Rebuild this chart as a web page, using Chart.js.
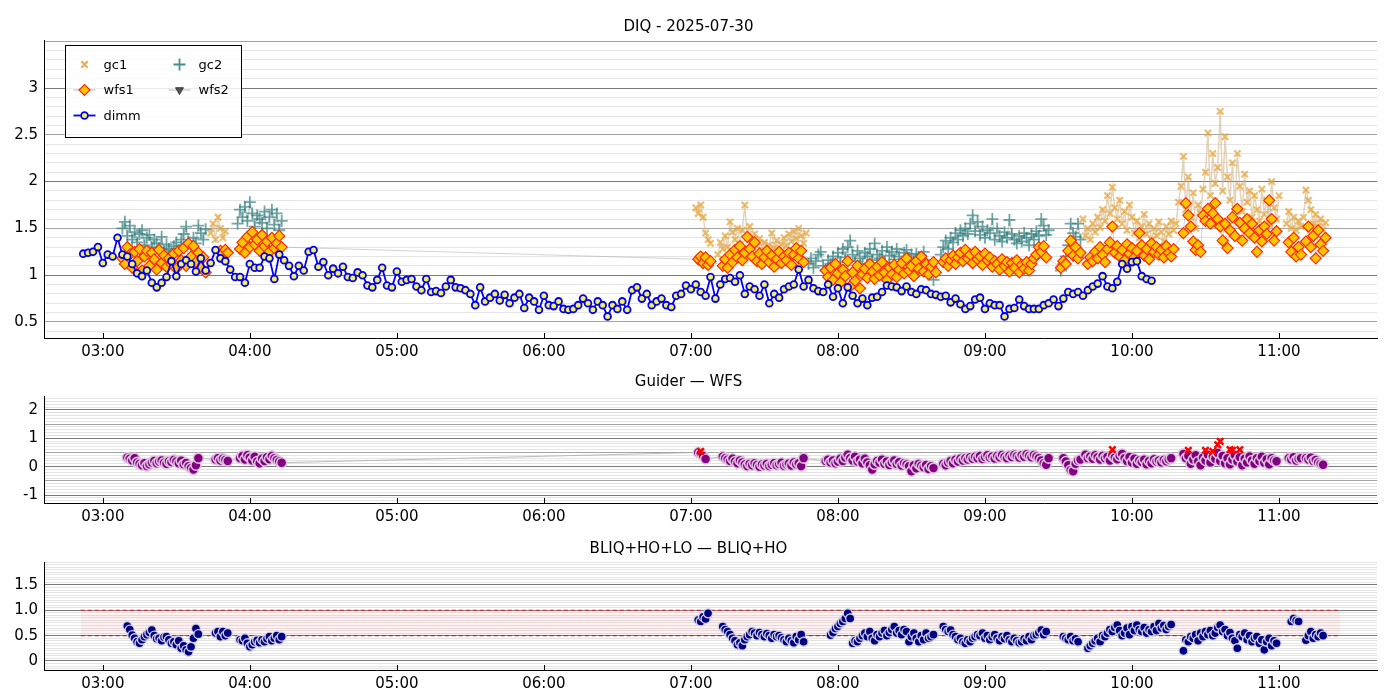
<!DOCTYPE html>
<html>
<head>
<meta charset="utf-8">
<title>DIQ - 2025-07-30</title>
<script src="https://cdn.jsdelivr.net/npm/chart.js@4.4.1/dist/chart.umd.min.js"></script>
<style>
  html, body { margin: 0; padding: 0; background: #fff; }
  #page { position: relative; width: 1400px; height: 700px; }
  .panel { position: absolute; left: 0; width: 1400px; }
</style>
</head>
<body>
<div id="page">
  <div class="panel" style="top:0;height:365px"><canvas id="diqChart"></canvas></div>
  <div class="panel" style="top:365px;height:165px"><canvas id="guiderChart"></canvas></div>
  <div class="panel" style="top:530px;height:170px"><canvas id="bliqChart"></canvas></div>
</div>
<script>
// --- data (times are HH:MM, one value per step) ---
const hourTicks = ["03:00", "04:00", "05:00", "06:00", "07:00", "08:00", "09:00", "10:00", "11:00"];

const DIMM_START = "02:52";
const DIMM_STEP = 2; // minutes
const dimmValues = [
  1.23, 1.24, 1.25, 1.30, 1.13, 1.22, 1.20, 1.40, 1.22, 1.20,
  1.12, 1.02, 0.99, 1.05, 0.92, 0.87, 0.92, 0.98, 1.15, 0.99,
  1.12, 1.16, 1.12, 1.04, 1.18, 1.05, 1.13, 1.27, 1.18, 1.15,
  1.06, 0.98, 0.98, 0.92, 1.12, 1.08, 1.08, 1.20, 1.18, 0.96,
  1.22, 1.16, 1.10, 0.99, 1.10, 1.05, 1.25, 1.27, 1.09, 1.14,
  1.00, 1.07, 1.02, 1.09, 0.98, 0.97, 1.03, 1.00, 0.89, 0.87,
  0.95, 1.08, 0.89, 0.87, 1.04, 0.93, 0.95, 0.96, 0.88, 0.84,
  0.96, 0.82, 0.83, 0.81, 0.88, 0.95, 0.87, 0.86, 0.84, 0.80,
  0.68, 0.87, 0.72, 0.76, 0.80, 0.73, 0.79, 0.70, 0.76, 0.80,
  0.65, 0.76, 0.72, 0.63, 0.78, 0.68, 0.67, 0.72, 0.64, 0.63,
  0.64, 0.68, 0.75, 0.70, 0.63, 0.72, 0.68, 0.56, 0.68, 0.64,
  0.72, 0.63, 0.84, 0.87, 0.75, 0.80, 0.68, 0.72, 0.75, 0.68,
  0.66, 0.78, 0.80, 0.89, 0.85, 0.90, 0.82, 0.78, 0.98, 0.75,
  0.90, 0.96, 0.97, 0.93, 1.00, 0.80, 0.88, 0.85, 0.78, 0.90,
  0.70, 0.80, 0.76, 0.85, 0.88, 0.90, 1.06, 0.88, 0.95, 0.86,
  0.83, 0.82, 0.90, 0.77, 0.86, 0.70, 0.87, 0.78, 0.70, 0.75,
  0.68, 0.76, 0.77, 0.82, 0.89, 0.88, 0.87, 0.83, 0.88, 0.82,
  0.80, 0.85, 0.84, 0.80, 0.79, 0.77, 0.78, 0.71, 0.75, 0.69,
  0.64, 0.67, 0.74, 0.76, 0.64, 0.70, 0.68, 0.68, 0.56, 0.64,
  0.65, 0.74, 0.67, 0.64, 0.64, 0.64, 0.68, 0.70, 0.74, 0.67,
  0.75, 0.82, 0.80, 0.82, 0.78, 0.84, 0.88, 0.91, 0.99, 0.88,
  0.86, 0.93, 1.12, 1.07, 1.14, 1.15, 0.99, 0.96, 0.94
];

const SAMPLE_STEP = 1; // minutes, for guider / wfs blocks

const wfs1Blocks = [
  ["03:08", [1.18, 1.12, 1.30, 1.22, 1.08, 1.25, 1.15, 1.28, 1.05, 1.20,
             1.26, 1.10, 1.24, 1.17, 1.06, 1.27, 1.13, 1.21, 1.09, 1.18,
             1.12, 1.23, 1.07, 1.26, 1.16, 1.29, 1.10, 1.34, 1.20, 1.31,
             1.14, 1.24, 1.08, 1.19, 1.03]],
  ["03:48", [1.26, 1.23, 1.27, 1.24]],
  ["03:56", [1.28, 1.35, 1.24, 1.41, 1.30, 1.46, 1.33, 1.38, 1.26, 1.43,
             1.31, 1.36, 1.25, 1.40, 1.29, 1.34, 1.42, 1.30]],
  ["07:03", [1.17, 1.20, 1.13, 1.19, 1.11, 1.15]],
  ["07:13", [1.10, 1.17, 1.08, 1.22, 1.14, 1.27, 1.19, 1.31, 1.16, 1.24,
             1.41, 1.28, 1.20, 1.35, 1.15, 1.23, 1.12, 1.19, 1.26, 1.14,
             1.21, 1.09, 1.17, 1.25, 1.13, 1.20, 1.16, 1.24, 1.11, 1.22,
             1.29, 1.18, 1.26, 1.14]],
  ["07:55", [1.05, 0.98, 1.08, 0.95, 1.12, 1.02, 0.92, 1.06, 0.99, 1.15,
             0.88, 1.03, 0.94, 1.10, 0.86, 1.01, 1.07, 0.97, 1.12, 1.04,
             0.96, 1.09, 1.00, 1.14, 1.03, 0.95, 1.08, 1.01, 1.11, 0.98,
             1.06, 1.13, 1.02, 1.18, 1.05, 1.10, 0.99, 1.15, 1.07, 1.20,
             1.04, 1.12, 1.01, 1.09, 1.14, 1.03]],
  ["08:43", [1.14, 1.18, 1.10, 1.16, 1.21, 1.12, 1.19, 1.24, 1.15, 1.27,
             1.18, 1.22, 1.13, 1.25, 1.17, 1.20, 1.11, 1.23, 1.16, 1.19,
             1.09, 1.15, 1.12, 1.06, 1.17, 1.10, 1.14, 1.04, 1.13, 1.08,
             1.16, 1.03, 1.11, 1.07, 1.14, 1.05, 1.12, 1.18, 1.22, 1.30,
             1.25, 1.31, 1.19]],
  ["09:31", [1.08, 1.15, 1.12, 1.26, 1.37, 1.21, 1.30, 1.18, 1.24]],
  ["09:42", [1.12, 1.19, 1.15, 1.25, 1.18, 1.30, 1.22, 1.14, 1.28, 1.35,
             1.52, 1.24, 1.31, 1.20, 1.27, 1.16, 1.33, 1.23, 1.29, 1.19,
             1.26, 1.45, 1.32, 1.21, 1.28, 1.17, 1.34, 1.25, 1.30, 1.22,
             1.27, 1.19, 1.31, 1.24, 1.20, 1.28]],
  ["10:21", [1.45, 1.77, 1.64, 1.52, 1.36, 1.27, 1.32, 1.25]],
  ["10:29", [1.64, 1.58, 1.71, 1.55, 1.66, 1.77, 1.60, 1.52, 1.37, 1.55,
             1.29, 1.48, 1.62, 1.42, 1.71, 1.56, 1.37, 1.50, 1.60, 1.45,
             1.55, 1.40, 1.25, 1.48, 1.36, 1.52, 1.44, 1.80, 1.60, 1.37,
             1.47]],
  ["11:04", [1.35, 1.25, 1.40, 1.20, 1.30, 1.22]],
  ["11:11", [1.36, 1.52, 1.30, 1.42, 1.18, 1.48, 1.33, 1.26, 1.40]]
];

const gc1Blocks = [
  ["03:44", [1.45, 1.55, 1.38, 1.62, 1.50, 1.40, 1.47]],
  ["07:02", [1.72, 1.66, 1.75, 1.62, 1.45, 1.38, 1.34]],
  ["07:11", [1.22, 1.35, 1.28, 1.42, 1.30, 1.57, 1.46, 1.38, 1.50, 1.33,
             1.48, 1.75, 1.40, 1.52, 1.36, 1.44, 1.31, 1.39, 1.27, 1.35,
             1.24, 1.32, 1.45, 1.29, 1.37, 1.26, 1.33, 1.40, 1.31, 1.44,
             1.36, 1.47, 1.39, 1.50, 1.42, 1.34, 1.45]],
  ["09:40", [1.60, 1.42, 1.50, 1.38, 1.55, 1.46, 1.62, 1.51, 1.70, 1.58,
             1.85, 1.66, 1.94, 1.72, 1.60, 1.80, 1.55, 1.68, 1.48, 1.75,
             1.62, 1.45, 1.58, 1.40, 1.52, 1.65, 1.44, 1.55, 1.38, 1.50,
             1.42, 1.57, 1.46, 1.36, 1.52, 1.44, 1.58, 1.48]],
  ["10:18", [1.55, 1.78, 1.95, 2.27, 1.70, 2.05, 1.62, 1.88, 1.50, 1.75,
             1.66, 1.92, 2.10, 2.52, 1.85, 2.30, 1.98, 2.15, 2.75, 1.90,
             2.48, 2.05, 1.80, 2.20, 1.72, 2.30, 1.95, 1.68, 2.08, 1.78,
             1.90, 1.62, 1.85, 1.70, 1.58, 1.92, 1.65, 1.80, 1.55, 2.00,
             1.72, 1.60, 1.85]],
  ["11:03", [1.55, 1.68, 1.50, 1.62, 1.48, 1.58, 1.52]],
  ["11:10", [1.62, 1.91, 1.80, 1.70, 1.55, 1.65, 1.52, 1.60, 1.48, 1.56]]
];

const gc2Blocks = [
  ["03:08", [1.50, 1.57, 1.42, 1.53, 1.38, 1.46, 1.35, 1.44, 1.48, 1.32,
             1.40, 1.43, 1.30, 1.38, 1.34, 1.29, 1.41, 1.26, 1.33, 1.28,
             1.24, 1.31, 1.35, 1.27, 1.38, 1.44, 1.52, 1.36, 1.30, 1.40,
             1.34, 1.53, 1.45, 1.38, 1.49]],
  ["03:55", [1.55, 1.70, 1.62, 1.73, 1.58, 1.78, 1.66, 1.52, 1.64, 1.60,
             1.56, 1.68, 1.50, 1.62, 1.70, 1.54, 1.66, 1.48, 1.58]],
  ["07:48", [1.12, 1.18, 1.08, 1.15, 1.22, 1.25, 1.10, 1.05, 1.16, 1.12,
             1.20, 1.08, 1.24, 1.14, 1.28, 1.19, 1.30, 1.37, 1.22, 1.15,
             1.26, 1.18, 1.12, 1.24, 1.20, 1.28, 1.16, 1.34, 1.22, 1.18,
             1.26, 1.14, 1.30, 1.21, 1.25, 1.17, 1.28, 1.20, 1.12, 1.24,
             1.27, 1.18, 1.22, 1.15, 1.23, 1.19, 1.12, 1.25, 1.16, 1.08,
             1.02, 0.95]],
  ["08:42", [1.22, 1.30, 1.37, 1.28, 1.40, 1.35, 1.45, 1.38, 1.48, 1.42,
             1.50, 1.44, 1.55, 1.64, 1.47, 1.57, 1.43, 1.52, 1.40, 1.48,
             1.45, 1.60, 1.38, 1.50, 1.42, 1.36, 1.46, 1.40, 1.59, 1.44,
             1.38, 1.34, 1.42, 1.36, 1.45, 1.40, 1.32, 1.44, 1.38, 1.47,
             1.42, 1.60, 1.53, 1.43, 1.48]],
  ["09:31", [1.05, 1.12, 1.20, 1.32, 1.55, 1.45, 1.41, 1.55, 1.38]]
];

// Guider - WFS difference
const guiderBlocks = [
  ["03:10", [0.32, 0.28, 0.22, 0.30, 0.15, 0.10, 0.05, 0.12, 0.02, 0.08,
             0.15, 0.20, 0.12, 0.18, 0.22, 0.14, 0.10, 0.19, 0.16, 0.24,
             0.18, 0.12, 0.21, 0.08, 0.13, 0.02, -0.05, -0.10, 0.05, 0.30]],
  ["03:46", [0.25, 0.30, 0.22, 0.28, 0.24, 0.20]],
  ["03:56", [0.30, 0.38, 0.25, 0.40, 0.32, 0.22, 0.35, 0.18, 0.12, 0.28,
             0.20, 0.33, 0.26, 0.38, 0.30, 0.24, 0.18, 0.14]],
  ["07:03", [0.50, 0.46, 0.38, 0.27]],
  ["07:13", [0.36, 0.30, 0.25, 0.20, 0.28, 0.18, 0.12, 0.22, 0.15, 0.08,
             0.02, 0.10, 0.05, 0.12, 0.06, 0.00, 0.08, 0.04, 0.10, 0.02,
             0.07, 0.12, 0.05, 0.09, 0.14, 0.03, 0.08, 0.11, 0.04, 0.15,
             0.08, 0.12, 0.02, 0.30]],
  ["07:55", [0.20, 0.25, 0.15, 0.22, 0.12, 0.18, 0.28, 0.20, 0.32, 0.42,
             0.30, 0.22, 0.35, 0.18, 0.25, 0.12, 0.28, 0.15, 0.05, -0.10,
             0.08, 0.20, 0.14, 0.25, 0.10, 0.18, 0.06, 0.15, 0.22, 0.09,
             0.16, 0.04, 0.12, 0.08, 0.02, -0.16, 0.05, -0.06, 0.10, 0.03,
             -0.02, 0.06, -0.08, 0.02, -0.05]],
  ["08:43", [0.10, 0.05, 0.15, 0.20, 0.12, 0.25, 0.18, 0.28, 0.22, 0.30,
             0.25, 0.33, 0.28, 0.35, 0.30, 0.38, 0.27, 0.34, 0.40, 0.32,
             0.36, 0.29, 0.38, 0.33, 0.41, 0.35, 0.30, 0.39, 0.34, 0.42,
             0.37, 0.32, 0.40, 0.35, 0.44, 0.38, 0.33, 0.41, 0.36, 0.30,
             0.22, 0.12, 0.07, 0.30]],
  ["09:32", [0.30, 0.18, 0.05, -0.12, -0.16, 0.10, 0.22, 0.25]],
  ["09:41", [0.42, 0.30, 0.36, 0.28, 0.40, 0.33, 0.25, 0.38, 0.30, 0.35,
             0.22, 0.40, 0.32, 0.26, 0.38, 0.45, 0.30, 0.20, 0.34, 0.15,
             0.28, 0.10, 0.22, 0.16, 0.25, 0.08, 0.20, 0.12, 0.26, 0.18,
             0.22, 0.15, 0.24, 0.19, 0.26, 0.30]],
  ["10:21", [0.45, 0.30, 0.38, 0.10, 0.25, 0.40, 0.18, 0.05, 0.32, 0.22,
             0.42, 0.15, 0.35, 0.28, 0.48, 0.20, 0.38, 0.12, 0.30, 0.08,
             0.25, 0.40, 0.18, 0.33, 0.05, 0.28, 0.15, 0.36, 0.22, 0.10,
             0.30, 0.20, 0.35, 0.14, 0.26, 0.08, 0.30, 0.22, 0.19]],
  ["11:04", [0.30, 0.25, 0.33, 0.22, 0.28, 0.30]],
  ["11:11", [0.30, 0.25, 0.32, 0.20, 0.24, 0.15, 0.10, 0.07]]
];

// flagged Guider - WFS points (red crosses)
const guiderFlagTimes = ["07:04", "09:52", "10:23", "10:30", "10:33", "10:35", "10:36", "10:40", "10:41", "10:44"];
const guiderFlagValues = [0.54, 0.60, 0.58, 0.58, 0.54, 0.77, 0.89, 0.60, 0.58, 0.60];

// BLIQ+HO+LO - BLIQ+HO
const bliqBlocks = [
  ["03:10", [0.69, 0.62, 0.51, 0.45, 0.38, 0.35, 0.42, 0.48, 0.52, 0.56,
             0.61, 0.50, 0.44, 0.45, 0.40, 0.47, 0.48, 0.42, 0.35, 0.38,
             0.32, 0.40, 0.25, 0.30, 0.22, 0.18, 0.28, 0.45, 0.64, 0.53]],
  ["03:46", [0.55, 0.58, 0.48, 0.58, 0.50, 0.55]],
  ["03:56", [0.42, 0.40, 0.45, 0.35, 0.28, 0.32, 0.38, 0.41, 0.36, 0.42,
             0.38, 0.44, 0.48, 0.40, 0.45, 0.50, 0.42, 0.48]],
  ["07:03", [0.81, 0.78, 0.87, 0.83, 0.94]],
  ["07:13", [0.68, 0.62, 0.58, 0.52, 0.45, 0.40, 0.32, 0.36, 0.30, 0.42,
             0.48, 0.52, 0.58, 0.55, 0.50, 0.56, 0.52, 0.48, 0.54, 0.50,
             0.45, 0.52, 0.48, 0.50, 0.46, 0.42, 0.38, 0.45, 0.40, 0.36,
             0.48, 0.42, 0.52, 0.38]],
  ["07:57", [0.51, 0.56, 0.64, 0.68, 0.74, 0.78, 0.84, 0.94, 0.84]],
  ["08:06", [0.35, 0.40, 0.38, 0.45, 0.50, 0.55, 0.48, 0.58, 0.45, 0.40,
             0.52, 0.48, 0.55, 0.60, 0.50, 0.56, 0.62, 0.68, 0.55, 0.60,
             0.52, 0.62, 0.58, 0.38, 0.48, 0.55, 0.45, 0.38, 0.50, 0.42,
             0.55, 0.45, 0.48, 0.52]],
  ["08:43", [0.68, 0.62, 0.58, 0.61, 0.52, 0.48, 0.42, 0.45, 0.38, 0.35,
             0.42, 0.38, 0.45, 0.48, 0.52, 0.50, 0.55, 0.45, 0.50, 0.42,
             0.48, 0.52, 0.45, 0.40, 0.48, 0.44, 0.50, 0.42, 0.38, 0.45,
             0.40, 0.36, 0.38, 0.44, 0.40, 0.48, 0.42, 0.50, 0.52, 0.56,
             0.61, 0.52, 0.58]],
  ["09:32", [0.48, 0.45, 0.42, 0.48, 0.40, 0.44, 0.38]],
  ["09:42", [0.25, 0.30, 0.35, 0.40, 0.45, 0.38, 0.50, 0.48, 0.55, 0.62,
             0.58, 0.66, 0.71, 0.60, 0.50, 0.55, 0.65, 0.52, 0.68, 0.60,
             0.71, 0.62, 0.58, 0.66, 0.55, 0.62, 0.58, 0.68, 0.60, 0.74,
             0.65, 0.70, 0.62, 0.68, 0.72]],
  ["10:21", [0.20, 0.42, 0.38, 0.48, 0.45, 0.52, 0.40, 0.55, 0.48, 0.58,
             0.52, 0.60, 0.50, 0.55, 0.66, 0.71, 0.58, 0.62, 0.50, 0.56,
             0.45, 0.40, 0.25, 0.52, 0.48, 0.55, 0.42, 0.50, 0.38, 0.45,
             0.48, 0.35, 0.42, 0.22, 0.38, 0.45, 0.30, 0.40, 0.35]],
  ["11:05", [0.78, 0.84, 0.80, 0.78]],
  ["11:11", [0.41, 0.50, 0.58, 0.45, 0.52, 0.48, 0.55, 0.50]]
];

const bliqBandLevels = [1.0, 0.5];
const bliqBandSpan = ["02:51", "11:25"];

// tick labels per panel
const diqTickLabels = { "0.5": "0.5", "1": "1", "1.5": "1.5", "2": "2", "2.5": "2.5", "3": "3" };
const guiderTickLabels = { "-1": "-1", "0": "0", "1": "1", "2": "2" };
const bliqTickLabels = { "0": "0", "0.5": "0.5", "1": "1.0", "1.5": "1.5" };

// --- helpers ---
function toMinutes(hhmm) {
  const [h, m] = hhmm.split(":").map(Number);
  return h * 60 + m;
}

function pad2(n) { return String(n).padStart(2, "0"); }

function blockPoints(blocks, step, breakLines) {
  const pts = [];
  blocks.forEach(([start, values], b) => {
    const t0 = toMinutes(start);
    if (breakLines && b > 0) pts.push({ x: t0 - 0.5, y: null });
    values.forEach((v, i) => pts.push({ x: t0 + i * step, y: v }));
  });
  return pts;
}

function gridValues(min, max, step) {
  const out = [];
  for (let k = Math.ceil(min / step - 1e-9); k * step <= max + 1e-9; k++) {
    out.push(Math.round(k * step * 1000) / 1000);
  }
  return out;
}

function gridColour(v, major, mid) {
  const on = (s) => Math.abs(v / s - Math.round(v / s)) < 1e-6;
  if (on(major)) return "#7a7a7a";
  if (mid && on(mid)) return "#a4a4a4";
  return "#e4e4e4";
}

const X_MIN = toMinutes("02:36");
const X_MAX = toMinutes("11:40");

// inward x tick marks, like the original axes
const inwardTicks = {
  id: "inwardTicks",
  afterDraw(chart) {
    const { ctx, chartArea } = chart;
    const xs = chart.scales.x;
    ctx.save();
    ctx.strokeStyle = "#000";
    ctx.lineWidth = 1;
    xs.ticks.forEach((t) => {
      const px = Math.round(xs.getPixelForValue(t.value)) + 0.5;
      ctx.beginPath();
      ctx.moveTo(px, chartArea.bottom);
      ctx.lineTo(px, chartArea.bottom - 5);
      ctx.stroke();
    });
    ctx.restore();
  }
};

function xAxis(height) {
  return {
    type: "linear",
    min: X_MIN,
    max: X_MAX,
    afterBuildTicks: (axis) => { axis.ticks = hourTicks.map((h) => ({ value: toMinutes(h) })); },
    afterFit: (axis) => { axis.height = height; },
    ticks: {
      autoSkip: false,
      maxRotation: 0,
      padding: 5,
      color: "#000",
      font: { size: 15 },
      callback: (v) => pad2(Math.floor(v / 60)) + ":" + pad2(v % 60)
    },
    grid: { display: false, drawTicks: false },
    border: { display: true, color: "#000", width: 1 }
  };
}

function yAxis(min, max, step, major, mid, labels) {
  return {
    type: "linear",
    min: min,
    max: max,
    afterBuildTicks: (axis) => { axis.ticks = gridValues(min, max, step).map((v) => ({ value: v })); },
    afterFit: (axis) => { axis.width = 44; },
    ticks: {
      autoSkip: false,
      padding: 6,
      color: "#000",
      font: { size: 15 },
      callback: (v) => labels[String(Math.round(v * 1000) / 1000)] || ""
    },
    grid: {
      drawTicks: false,
      lineWidth: 1,
      color: (c) => gridColour(c.tick.value, major, mid)
    },
    border: { display: true, color: "#000", width: 1 }
  };
}

function baseOptions(title, padTop, padBottom, xHeight, y) {
  return {
    responsive: true,
    maintainAspectRatio: false,
    animation: false,
    events: [],
    layout: { padding: { left: 0, right: 23, top: 0, bottom: 0 } },
    plugins: {
      legend: { display: false },
      tooltip: { enabled: false },
      title: {
        display: true,
        text: title,
        color: "#000",
        font: { size: 15, weight: "normal" },
        padding: { top: padTop, bottom: padBottom }
      }
    },
    scales: { x: xAxis(xHeight), y: y }
  };
}

// --- top panel legend (two columns, framed box) ---
const legendEntries = [
  { label: "gc1", col: 0, row: 0, point: { pointStyle: "crossRot", radius: 4.5, borderWidth: 2.2 }, stroke: "rgba(228,162,52,0.85)", fill: null, line: null },
  { label: "wfs1", col: 0, row: 1, point: { pointStyle: "rectRot", radius: 5.5, borderWidth: 1.2 }, stroke: "#ff2a00", fill: "#ffc400", line: "rgba(170,170,170,0.8)" },
  { label: "dimm", col: 0, row: 2, point: { pointStyle: "circle", radius: 3.4, borderWidth: 1.8 }, stroke: "#0000ee", fill: "#f5f05a", line: "#0000ff" },
  { label: "gc2", col: 1, row: 0, point: { pointStyle: "cross", radius: 6, borderWidth: 1.8 }, stroke: "rgba(38,122,122,0.85)", fill: null, line: null },
  { label: "wfs2", col: 1, row: 1, point: { pointStyle: "triangle", radius: 4.5, borderWidth: 1, rotation: 180 }, stroke: "#333", fill: "#555", line: "rgba(170,170,170,0.8)" }
];

const boxLegend = {
  id: "boxLegend",
  afterDraw(chart) {
    const { ctx, chartArea } = chart;
    const left = chartArea.left + 21.5;
    const top = chartArea.top + 5.5;
    ctx.save();
    ctx.fillStyle = "rgba(255,255,255,0.85)";
    ctx.fillRect(left, top, 176, 92);
    ctx.strokeStyle = "#000";
    ctx.lineWidth = 1;
    ctx.strokeRect(left, top, 176, 92);
    legendEntries.forEach((e) => {
      const cx = left + 19 + e.col * 95;
      const cy = top + 19 + e.row * 25.5;
      if (e.line) {
        ctx.strokeStyle = e.line;
        ctx.lineWidth = e.label === "dimm" ? 1.8 : 1;
        ctx.beginPath();
        ctx.moveTo(cx - 11, cy);
        ctx.lineTo(cx + 11, cy);
        ctx.stroke();
      }
      ctx.strokeStyle = e.stroke;
      ctx.fillStyle = e.fill || "rgba(0,0,0,0)";
      ctx.lineWidth = e.point.borderWidth;
      Chart.helpers.drawPoint(ctx, Object.assign({ rotation: 0 }, e.point), cx, cy);
      ctx.fillStyle = "#000";
      ctx.font = "13px 'DejaVu Sans'";
      ctx.textBaseline = "middle";
      ctx.textAlign = "left";
      ctx.fillText(e.label, cx + 19, cy + 1);
    });
    ctx.restore();
  }
};

Chart.defaults.font.family = "'DejaVu Sans', sans-serif";

// --- DIQ panel ---
new Chart(document.getElementById("diqChart"), {
  type: "scatter",
  data: {
    datasets: [
      {
        label: "dimm",
        data: dimmValues.map((v, i) => ({ x: toMinutes(DIMM_START) + i * DIMM_STEP, y: v })),
        showLine: true,
        borderColor: "#0000ff",
        borderWidth: 1.8,
        pointRadius: 3.4,
        pointBackgroundColor: "#f5f05a",
        pointBorderColor: "#0000ee",
        pointBorderWidth: 1.8,
        order: 1
      },
      {
        label: "wfs1",
        data: blockPoints(wfs1Blocks, SAMPLE_STEP, false),
        showLine: true,
        borderColor: "rgba(160,160,160,0.6)",
        borderWidth: 0.8,
        pointStyle: "rectRot",
        pointRadius: 5.5,
        pointBackgroundColor: "#ffc400",
        pointBorderColor: "#ff2a00",
        pointBorderWidth: 1.2,
        order: 2
      },
      {
        label: "gc2",
        data: blockPoints(gc2Blocks, SAMPLE_STEP, true),
        showLine: true,
        spanGaps: false,
        borderColor: "rgba(150,165,165,0.5)",
        borderWidth: 1.5,
        pointStyle: "cross",
        pointRadius: 6,
        pointBorderColor: "rgba(38,122,122,0.65)",
        pointBorderWidth: 1.8,
        order: 3
      },
      {
        label: "gc1",
        data: blockPoints(gc1Blocks, SAMPLE_STEP, true),
        showLine: true,
        spanGaps: false,
        borderColor: "rgba(205,175,130,0.55)",
        borderWidth: 1.5,
        pointStyle: "crossRot",
        pointRadius: 4.5,
        pointBorderColor: "rgba(228,162,52,0.7)",
        pointBorderWidth: 2.2,
        order: 4
      },
      {
        label: "wfs2",
        data: [],
        pointStyle: "triangle",
        order: 5
      }
    ]
  },
  options: baseOptions("DIQ - 2025-07-30", 18, 4, 27, yAxis(0.329, 3.513, 0.1, 1, 0.5, diqTickLabels)),
  plugins: [inwardTicks, boxLegend]
});

// --- Guider - WFS panel ---
new Chart(document.getElementById("guiderChart"), {
  type: "scatter",
  data: {
    datasets: [
      {
        label: "flagged",
        data: guiderFlagTimes.map((t, i) => ({ x: toMinutes(t), y: guiderFlagValues[i] })),
        pointStyle: "crossRot",
        pointRadius: 4.5,
        pointBorderColor: "#ff0000",
        pointBorderWidth: 2.5,
        order: 1
      },
      {
        label: "Guider - WFS",
        data: blockPoints(guiderBlocks, SAMPLE_STEP, false),
        showLine: true,
        borderColor: "rgba(170,170,170,0.8)",
        borderWidth: 1,
        pointRadius: 5,
        pointBackgroundColor: "#800080",
        pointBorderColor: "rgba(225,200,225,0.95)",
        pointBorderWidth: 1.6,
        order: 2
      }
    ]
  },
  options: baseOptions("Guider \u2014 WFS", 8, 5, 27, yAxis(-1.28, 2.49, 0.1, 1, 0.5, guiderTickLabels)),
  plugins: [inwardTicks]
});

// --- BLIQ panel ---
const bandStart = toMinutes(bliqBandSpan[0]);
const bandEnd = toMinutes(bliqBandSpan[1]);

new Chart(document.getElementById("bliqChart"), {
  type: "scatter",
  data: {
    datasets: [
      {
        type: "line",
        label: "upper",
        data: [{ x: bandStart, y: bliqBandLevels[0] }, { x: bandEnd, y: bliqBandLevels[0] }],
        borderColor: "#b8262a",
        borderWidth: 1.2,
        borderDash: [4, 3],
        pointRadius: 0,
        fill: false,
        order: 3
      },
      {
        type: "line",
        label: "lower",
        data: [{ x: bandStart, y: bliqBandLevels[1] }, { x: bandEnd, y: bliqBandLevels[1] }],
        borderColor: "#b8262a",
        borderWidth: 1.2,
        borderDash: [4, 3],
        pointRadius: 0,
        fill: "-1",
        backgroundColor: "rgba(255,170,170,0.16)",
        order: 2
      },
      {
        label: "BLIQ+HO+LO - BLIQ+HO",
        data: blockPoints(bliqBlocks, SAMPLE_STEP, false),
        pointRadius: 4.5,
        pointBackgroundColor: "#000080",
        pointBorderColor: "rgba(215,215,235,0.95)",
        pointBorderWidth: 1.4,
        order: 1
      }
    ]
  },
  options: baseOptions("BLIQ+HO+LO \u2014 BLIQ+HO", 10, 4, 30, yAxis(-0.178, 1.954, 0.05, 0.5, null, bliqTickLabels)),
  plugins: [inwardTicks]
});
</script>
</body>
</html>
